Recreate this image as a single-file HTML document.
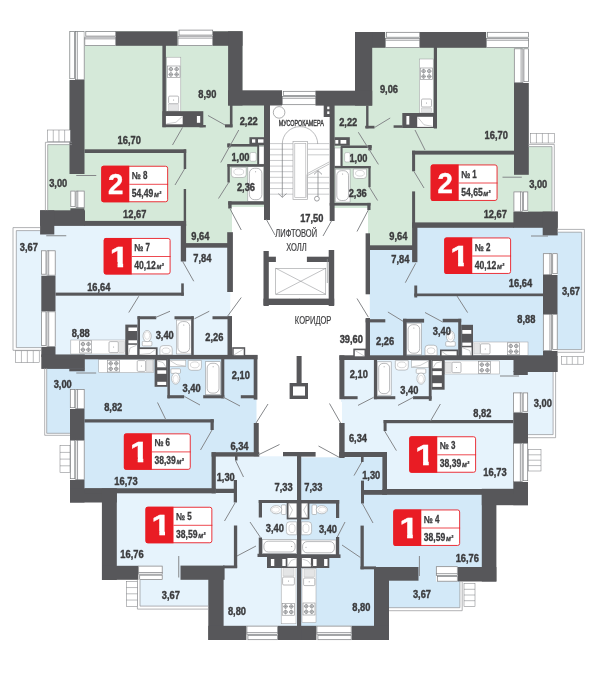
<!DOCTYPE html>
<html lang="ru"><head><meta charset="utf-8"><title>План этажа</title>
<style>html,body{margin:0;padding:0;background:#fff;overflow:hidden}svg{display:block;will-change:transform}svg text{font-family:"Liberation Sans",sans-serif}</style></head>
<body>
<svg width="600" height="700" viewBox="0 0 600 700" font-family="'Liberation Sans', sans-serif">
<g id="fill">
<rect x="69.5" y="31.3" width="173" height="73.7" fill="#d5e9d9"/>
<rect x="69.5" y="105" width="197.5" height="102" fill="#d5e9d9"/>
<rect x="47.7" y="144.6" width="37.3" height="67.4" fill="#d5e9d9"/>
<rect x="84" y="150" width="103" height="73" fill="#d5e9d9"/>
<rect x="183" y="205" width="49" height="41" fill="#d5e9d9"/>
<rect x="16.3" y="230.6" width="25.7" height="117" fill="#e6f3fc"/>
<rect x="41" y="225" width="143.5" height="71" fill="#e6f3fc"/>
<rect x="183" y="245" width="47.3" height="51" fill="#e6f3fc"/>
<rect x="55" y="294" width="175.3" height="63" fill="#e6f3fc"/>
<rect x="70" y="356" width="187" height="44" fill="#d3e9f8"/>
<rect x="46.7" y="368" width="24.3" height="65.3" fill="#d3e9f8"/>
<rect x="70" y="400" width="186.5" height="56" fill="#d3e9f8"/>
<rect x="70" y="456" width="146" height="35" fill="#d3e9f8"/>
<rect x="214" y="456.3" width="85" height="110.7" fill="#e6f3fc"/>
<rect x="116" y="492" width="99" height="75" fill="#e6f3fc"/>
<rect x="222" y="566" width="77" height="62" fill="#e6f3fc"/>
<rect x="140" y="579" width="70" height="27.1" fill="#e6f3fc"/>
<rect x="162" y="565" width="19" height="16" fill="#e6f3fc"/>
<rect x="355.5" y="32.2" width="173" height="73.8" fill="#d5e9d9"/>
<rect x="331" y="105" width="197.5" height="103" fill="#d5e9d9"/>
<rect x="513" y="146.6" width="39" height="66.4" fill="#d5e9d9"/>
<rect x="411" y="150" width="103" height="75" fill="#d5e9d9"/>
<rect x="368" y="205" width="47" height="42.5" fill="#d5e9d9"/>
<rect x="556" y="232.2" width="25.7" height="117.4" fill="#d3e9f8"/>
<rect x="415" y="226" width="142" height="71" fill="#d3e9f8"/>
<rect x="369.8" y="247" width="46.2" height="50" fill="#d3e9f8"/>
<rect x="369.8" y="295" width="173.7" height="63" fill="#d3e9f8"/>
<rect x="341" y="358" width="187" height="44" fill="#e6f3fc"/>
<rect x="527" y="370" width="26.1" height="64.6" fill="#e6f3fc"/>
<rect x="342" y="400" width="186" height="58" fill="#e6f3fc"/>
<rect x="385" y="456" width="143" height="36" fill="#e6f3fc"/>
<rect x="299" y="457.3" width="85.5" height="112.7" fill="#d3e9f8"/>
<rect x="383" y="493" width="99" height="75.5" fill="#d3e9f8"/>
<rect x="299" y="566" width="77" height="62" fill="#d3e9f8"/>
<rect x="388" y="580" width="71.9" height="27.7" fill="#d3e9f8"/>
<rect x="418" y="566" width="18.5" height="16" fill="#d3e9f8"/>
</g>
<g id="fix">
<rect x="166.7" y="57.2" width="14.1" height="54.3" fill="#fff" stroke="#9a9c9e" stroke-width="0.5"/>
<rect x="167.5" y="66" width="12.5" height="11.6" fill="#fff" stroke="#8a8c8f" stroke-width="0.6"/>
<ellipse cx="170.88" cy="69.13" rx="1.7" ry="1.7" fill="#fff" stroke="#6f7174" stroke-width="0.6"/>
<line x1="168.57" y1="69.13" x2="173.18" y2="69.13" stroke="#6f7174" stroke-width="0.5"/>
<line x1="170.88" y1="66.83" x2="170.88" y2="71.43" stroke="#6f7174" stroke-width="0.5"/>
<ellipse cx="170.88" cy="74.47" rx="1.7" ry="1.7" fill="#fff" stroke="#6f7174" stroke-width="0.6"/>
<line x1="168.57" y1="74.47" x2="173.18" y2="74.47" stroke="#6f7174" stroke-width="0.5"/>
<line x1="170.88" y1="72.17" x2="170.88" y2="76.77" stroke="#6f7174" stroke-width="0.5"/>
<ellipse cx="176.62" cy="69.13" rx="1.7" ry="1.7" fill="#fff" stroke="#6f7174" stroke-width="0.6"/>
<line x1="174.32" y1="69.13" x2="178.93" y2="69.13" stroke="#6f7174" stroke-width="0.5"/>
<line x1="176.62" y1="66.83" x2="176.62" y2="71.43" stroke="#6f7174" stroke-width="0.5"/>
<ellipse cx="176.62" cy="74.47" rx="1.7" ry="1.7" fill="#fff" stroke="#6f7174" stroke-width="0.6"/>
<line x1="174.32" y1="74.47" x2="178.93" y2="74.47" stroke="#6f7174" stroke-width="0.5"/>
<line x1="176.62" y1="72.17" x2="176.62" y2="76.77" stroke="#6f7174" stroke-width="0.5"/>
<rect x="168.6" y="96.1" width="10" height="7.6" fill="#fff" stroke="#8a8c8f" stroke-width="0.6" rx="1.2"/>
<ellipse cx="173.6" cy="99.9" rx="0.5" ry="0.5" fill="#8a8c8f" stroke="none" stroke-width="0"/>
<rect x="168.6" y="104.7" width="10" height="6.2" fill="#e4e5e6" stroke="#b8b9bb" stroke-width="0.4"/>
<rect x="259" y="146.5" width="5" height="17.7" fill="#fff" stroke="#9a9c9e" stroke-width="0.5"/>
<rect x="250" y="152.5" width="6.25" height="8.75" fill="#fff" stroke="#9a9c9e" stroke-width="0.5" rx="1.5"/>
<path d="M231.25 167.3 V174.3 Q231.25 177.5 234.45 177.5 H243.05 Q246.25 177.5 246.25 174.3 V167.3 Z" fill="#fff" stroke="#9a9c9e" stroke-width="0.6"/>
<ellipse cx="238.75" cy="171.89" rx="4.95" ry="3.06" fill="#fff" stroke="#b0b1b3" stroke-width="0.5"/>
<rect x="247.8" y="166.7" width="15.7" height="34.6" fill="#fff" stroke="#9a9c9e" stroke-width="0.6"/>
<rect x="249.4" y="168.3" width="12.5" height="31.4" fill="#fff" stroke="#8a8c8f" stroke-width="0.6" rx="5"/>
<ellipse cx="255.65" cy="171.7" rx="0.5" ry="0.5" fill="#8a8c8f" stroke="none" stroke-width="0"/>
<rect x="70.8" y="340" width="54.5" height="14" fill="#fff" stroke="#9a9c9e" stroke-width="0.5"/>
<rect x="79.7" y="340.8" width="12" height="12.2" fill="#fff" stroke="#8a8c8f" stroke-width="0.6"/>
<ellipse cx="82.94" cy="344.09" rx="1.7" ry="1.7" fill="#fff" stroke="#6f7174" stroke-width="0.6"/>
<line x1="80.64" y1="344.09" x2="85.24" y2="344.09" stroke="#6f7174" stroke-width="0.5"/>
<line x1="82.94" y1="341.79" x2="82.94" y2="346.39" stroke="#6f7174" stroke-width="0.5"/>
<ellipse cx="82.94" cy="349.71" rx="1.7" ry="1.7" fill="#fff" stroke="#6f7174" stroke-width="0.6"/>
<line x1="80.64" y1="349.71" x2="85.24" y2="349.71" stroke="#6f7174" stroke-width="0.5"/>
<line x1="82.94" y1="347.41" x2="82.94" y2="352.01" stroke="#6f7174" stroke-width="0.5"/>
<ellipse cx="88.46" cy="344.09" rx="1.7" ry="1.7" fill="#fff" stroke="#6f7174" stroke-width="0.6"/>
<line x1="86.16" y1="344.09" x2="90.76" y2="344.09" stroke="#6f7174" stroke-width="0.5"/>
<line x1="88.46" y1="341.79" x2="88.46" y2="346.39" stroke="#6f7174" stroke-width="0.5"/>
<ellipse cx="88.46" cy="349.71" rx="1.7" ry="1.7" fill="#fff" stroke="#6f7174" stroke-width="0.6"/>
<line x1="86.16" y1="349.71" x2="90.76" y2="349.71" stroke="#6f7174" stroke-width="0.5"/>
<line x1="88.46" y1="347.41" x2="88.46" y2="352.01" stroke="#6f7174" stroke-width="0.5"/>
<rect x="109" y="341.6" width="9.3" height="11" fill="#fff" stroke="#8a8c8f" stroke-width="0.6" rx="1.2"/>
<ellipse cx="113.65" cy="347.1" rx="0.5" ry="0.5" fill="#8a8c8f" stroke="none" stroke-width="0"/>
<rect x="118.8" y="341.6" width="5.8" height="11" fill="#e4e5e6" stroke="#b8b9bb" stroke-width="0.4"/>
<rect x="142.3" y="341.3" width="9.6" height="4.6" fill="#fff" stroke="#9a9c9e" stroke-width="0.6" rx="1"/>
<ellipse cx="147.1" cy="336.1" rx="4.1" ry="5.6" fill="#fff" stroke="#9a9c9e" stroke-width="0.6"/>
<ellipse cx="147.1" cy="335.5" rx="2.6" ry="3.9" fill="#fff" stroke="#c4c5c7" stroke-width="0.5"/>
<rect x="176.3" y="320" width="15" height="34" fill="#fff" stroke="#9a9c9e" stroke-width="0.6"/>
<rect x="177.9" y="321.6" width="11.8" height="30.8" fill="#fff" stroke="#8a8c8f" stroke-width="0.6" rx="4.72"/>
<ellipse cx="183.8" cy="325" rx="0.5" ry="0.5" fill="#8a8c8f" stroke="none" stroke-width="0"/>
<path d="M159.9 355 V348.8 Q159.9 345.6 163.1 345.6 H169 Q172.2 345.6 172.2 348.8 V355 Z" fill="#fff" stroke="#9a9c9e" stroke-width="0.6"/>
<ellipse cx="166.05" cy="350.77" rx="4.06" ry="2.82" fill="#fff" stroke="#b0b1b3" stroke-width="0.5"/>
<rect x="98.75" y="359.6" width="55" height="13" fill="#fff" stroke="#9a9c9e" stroke-width="0.5"/>
<rect x="107.5" y="360.2" width="12" height="11.8" fill="#fff" stroke="#8a8c8f" stroke-width="0.6"/>
<ellipse cx="110.74" cy="363.39" rx="1.7" ry="1.7" fill="#fff" stroke="#6f7174" stroke-width="0.6"/>
<line x1="108.44" y1="363.39" x2="113.04" y2="363.39" stroke="#6f7174" stroke-width="0.5"/>
<line x1="110.74" y1="361.09" x2="110.74" y2="365.69" stroke="#6f7174" stroke-width="0.5"/>
<ellipse cx="110.74" cy="368.81" rx="1.7" ry="1.7" fill="#fff" stroke="#6f7174" stroke-width="0.6"/>
<line x1="108.44" y1="368.81" x2="113.04" y2="368.81" stroke="#6f7174" stroke-width="0.5"/>
<line x1="110.74" y1="366.51" x2="110.74" y2="371.11" stroke="#6f7174" stroke-width="0.5"/>
<ellipse cx="116.26" cy="363.39" rx="1.7" ry="1.7" fill="#fff" stroke="#6f7174" stroke-width="0.6"/>
<line x1="113.96" y1="363.39" x2="118.56" y2="363.39" stroke="#6f7174" stroke-width="0.5"/>
<line x1="116.26" y1="361.09" x2="116.26" y2="365.69" stroke="#6f7174" stroke-width="0.5"/>
<ellipse cx="116.26" cy="368.81" rx="1.7" ry="1.7" fill="#fff" stroke="#6f7174" stroke-width="0.6"/>
<line x1="113.96" y1="368.81" x2="118.56" y2="368.81" stroke="#6f7174" stroke-width="0.5"/>
<line x1="116.26" y1="366.51" x2="116.26" y2="371.11" stroke="#6f7174" stroke-width="0.5"/>
<rect x="137.2" y="360.6" width="8.4" height="10.8" fill="#fff" stroke="#8a8c8f" stroke-width="0.6" rx="1.2"/>
<ellipse cx="141.4" cy="366" rx="0.5" ry="0.5" fill="#8a8c8f" stroke="none" stroke-width="0"/>
<rect x="146.2" y="360.6" width="6.6" height="10.8" fill="#e4e5e6" stroke="#b8b9bb" stroke-width="0.4"/>
<rect x="169.8" y="360.2" width="16" height="6.4" fill="#fff" stroke="#9a9c9e" stroke-width="0.5"/>
<path d="M185.3 366 L177 364.8 L170.3 360.8" fill="#fff" stroke="#9a9c9e" stroke-width="0.5"/>
<rect x="170.9" y="368.8" width="9.6" height="4.6" fill="#fff" stroke="#9a9c9e" stroke-width="0.6" rx="1"/>
<ellipse cx="175.7" cy="378.6" rx="4.1" ry="5.6" fill="#fff" stroke="#9a9c9e" stroke-width="0.6"/>
<ellipse cx="175.7" cy="379.2" rx="2.6" ry="3.9" fill="#fff" stroke="#c4c5c7" stroke-width="0.5"/>
<path d="M188.2 360.4 V367.1 Q188.2 370.3 191.4 370.3 H198.2 Q201.4 370.3 201.4 367.1 V360.4 Z" fill="#fff" stroke="#9a9c9e" stroke-width="0.6"/>
<ellipse cx="194.8" cy="364.86" rx="4.36" ry="2.97" fill="#fff" stroke="#b0b1b3" stroke-width="0.5"/>
<rect x="205.6" y="361.7" width="15" height="33" fill="#fff" stroke="#9a9c9e" stroke-width="0.6"/>
<rect x="207.2" y="363.3" width="11.8" height="29.8" fill="#fff" stroke="#8a8c8f" stroke-width="0.6" rx="4.72"/>
<ellipse cx="213.1" cy="366.7" rx="0.5" ry="0.5" fill="#8a8c8f" stroke="none" stroke-width="0"/>
<rect x="281.4" y="504.9" width="4.6" height="9.6" fill="#fff" stroke="#9a9c9e" stroke-width="0.6" rx="1"/>
<ellipse cx="276.2" cy="509.7" rx="5.6" ry="4.1" fill="#fff" stroke="#9a9c9e" stroke-width="0.6"/>
<ellipse cx="275.6" cy="509.7" rx="3.9" ry="2.6" fill="#fff" stroke="#c4c5c7" stroke-width="0.5"/>
<path d="M296.7 521.8 H289.6 Q286.4 521.8 286.4 525 V531.6 Q286.4 534.8 289.6 534.8 H296.7 Z" fill="#fff" stroke="#9a9c9e" stroke-width="0.6"/>
<ellipse cx="292.06" cy="528.3" rx="3.09" ry="4.29" fill="#fff" stroke="#b0b1b3" stroke-width="0.5"/>
<rect x="262.3" y="539.6" width="34.4" height="14" fill="#fff" stroke="#9a9c9e" stroke-width="0.6"/>
<rect x="263.9" y="541.2" width="31.2" height="10.8" fill="#fff" stroke="#8a8c8f" stroke-width="0.6" rx="4.32"/>
<ellipse cx="291.7" cy="546.6" rx="0.5" ry="0.5" fill="#8a8c8f" stroke="none" stroke-width="0"/>
<rect x="281.2" y="567.5" width="14.8" height="56.25" fill="#fff" stroke="#9a9c9e" stroke-width="0.5"/>
<rect x="283" y="568.8" width="11" height="7.2" fill="#e4e5e6" stroke="#b8b9bb" stroke-width="0.4"/>
<rect x="282.6" y="577" width="11.8" height="8" fill="#fff" stroke="#8a8c8f" stroke-width="0.6" rx="1.2"/>
<ellipse cx="288.5" cy="581" rx="0.5" ry="0.5" fill="#8a8c8f" stroke="none" stroke-width="0"/>
<rect x="282.2" y="603.3" width="12.4" height="11.9" fill="#fff" stroke="#8a8c8f" stroke-width="0.6"/>
<ellipse cx="285.55" cy="606.51" rx="1.7" ry="1.7" fill="#fff" stroke="#6f7174" stroke-width="0.6"/>
<line x1="283.25" y1="606.51" x2="287.85" y2="606.51" stroke="#6f7174" stroke-width="0.5"/>
<line x1="285.55" y1="604.21" x2="285.55" y2="608.81" stroke="#6f7174" stroke-width="0.5"/>
<ellipse cx="285.55" cy="611.99" rx="1.7" ry="1.7" fill="#fff" stroke="#6f7174" stroke-width="0.6"/>
<line x1="283.25" y1="611.99" x2="287.85" y2="611.99" stroke="#6f7174" stroke-width="0.5"/>
<line x1="285.55" y1="609.69" x2="285.55" y2="614.29" stroke="#6f7174" stroke-width="0.5"/>
<ellipse cx="291.25" cy="606.51" rx="1.7" ry="1.7" fill="#fff" stroke="#6f7174" stroke-width="0.6"/>
<line x1="288.95" y1="606.51" x2="293.55" y2="606.51" stroke="#6f7174" stroke-width="0.5"/>
<line x1="291.25" y1="604.21" x2="291.25" y2="608.81" stroke="#6f7174" stroke-width="0.5"/>
<ellipse cx="291.25" cy="611.99" rx="1.7" ry="1.7" fill="#fff" stroke="#6f7174" stroke-width="0.6"/>
<line x1="288.95" y1="611.99" x2="293.55" y2="611.99" stroke="#6f7174" stroke-width="0.5"/>
<line x1="291.25" y1="609.69" x2="291.25" y2="614.29" stroke="#6f7174" stroke-width="0.5"/>
<rect x="419.5" y="59" width="13.7" height="54" fill="#fff" stroke="#9a9c9e" stroke-width="0.5"/>
<rect x="420.3" y="68" width="12.2" height="11.6" fill="#fff" stroke="#8a8c8f" stroke-width="0.6"/>
<ellipse cx="423.59" cy="71.13" rx="1.7" ry="1.7" fill="#fff" stroke="#6f7174" stroke-width="0.6"/>
<line x1="421.29" y1="71.13" x2="425.89" y2="71.13" stroke="#6f7174" stroke-width="0.5"/>
<line x1="423.59" y1="68.83" x2="423.59" y2="73.43" stroke="#6f7174" stroke-width="0.5"/>
<ellipse cx="423.59" cy="76.47" rx="1.7" ry="1.7" fill="#fff" stroke="#6f7174" stroke-width="0.6"/>
<line x1="421.29" y1="76.47" x2="425.89" y2="76.47" stroke="#6f7174" stroke-width="0.5"/>
<line x1="423.59" y1="74.17" x2="423.59" y2="78.77" stroke="#6f7174" stroke-width="0.5"/>
<ellipse cx="429.21" cy="71.13" rx="1.7" ry="1.7" fill="#fff" stroke="#6f7174" stroke-width="0.6"/>
<line x1="426.91" y1="71.13" x2="431.51" y2="71.13" stroke="#6f7174" stroke-width="0.5"/>
<line x1="429.21" y1="68.83" x2="429.21" y2="73.43" stroke="#6f7174" stroke-width="0.5"/>
<ellipse cx="429.21" cy="76.47" rx="1.7" ry="1.7" fill="#fff" stroke="#6f7174" stroke-width="0.6"/>
<line x1="426.91" y1="76.47" x2="431.51" y2="76.47" stroke="#6f7174" stroke-width="0.5"/>
<line x1="429.21" y1="74.17" x2="429.21" y2="78.77" stroke="#6f7174" stroke-width="0.5"/>
<rect x="421.5" y="99" width="10" height="8" fill="#fff" stroke="#8a8c8f" stroke-width="0.6" rx="1.2"/>
<ellipse cx="426.5" cy="103" rx="0.5" ry="0.5" fill="#8a8c8f" stroke="none" stroke-width="0"/>
<rect x="421.5" y="108" width="10" height="4.6" fill="#e4e5e6" stroke="#b8b9bb" stroke-width="0.4"/>
<rect x="334.6" y="148" width="6.1" height="18" fill="#fff" stroke="#9a9c9e" stroke-width="0.5"/>
<rect x="344.6" y="152.6" width="5.5" height="9.4" fill="#fff" stroke="#9a9c9e" stroke-width="0.5" rx="1.5"/>
<path d="M353.3 169 V175.3 Q353.3 178.5 356.5 178.5 H363.4 Q366.6 178.5 366.6 175.3 V169 Z" fill="#fff" stroke="#9a9c9e" stroke-width="0.6"/>
<ellipse cx="359.95" cy="173.28" rx="4.39" ry="2.85" fill="#fff" stroke="#b0b1b3" stroke-width="0.5"/>
<rect x="335.2" y="169.1" width="14.9" height="33" fill="#fff" stroke="#9a9c9e" stroke-width="0.6"/>
<rect x="336.8" y="170.7" width="11.7" height="29.8" fill="#fff" stroke="#8a8c8f" stroke-width="0.6" rx="4.68"/>
<ellipse cx="342.65" cy="174.1" rx="0.5" ry="0.5" fill="#8a8c8f" stroke="none" stroke-width="0"/>
<rect x="473" y="342" width="55" height="13.4" fill="#fff" stroke="#9a9c9e" stroke-width="0.5"/>
<rect x="507.5" y="342.8" width="12" height="12" fill="#fff" stroke="#8a8c8f" stroke-width="0.6"/>
<ellipse cx="510.74" cy="346.04" rx="1.7" ry="1.7" fill="#fff" stroke="#6f7174" stroke-width="0.6"/>
<line x1="508.44" y1="346.04" x2="513.04" y2="346.04" stroke="#6f7174" stroke-width="0.5"/>
<line x1="510.74" y1="343.74" x2="510.74" y2="348.34" stroke="#6f7174" stroke-width="0.5"/>
<ellipse cx="510.74" cy="351.56" rx="1.7" ry="1.7" fill="#fff" stroke="#6f7174" stroke-width="0.6"/>
<line x1="508.44" y1="351.56" x2="513.04" y2="351.56" stroke="#6f7174" stroke-width="0.5"/>
<line x1="510.74" y1="349.26" x2="510.74" y2="353.86" stroke="#6f7174" stroke-width="0.5"/>
<ellipse cx="516.26" cy="346.04" rx="1.7" ry="1.7" fill="#fff" stroke="#6f7174" stroke-width="0.6"/>
<line x1="513.96" y1="346.04" x2="518.56" y2="346.04" stroke="#6f7174" stroke-width="0.5"/>
<line x1="516.26" y1="343.74" x2="516.26" y2="348.34" stroke="#6f7174" stroke-width="0.5"/>
<ellipse cx="516.26" cy="351.56" rx="1.7" ry="1.7" fill="#fff" stroke="#6f7174" stroke-width="0.6"/>
<line x1="513.96" y1="351.56" x2="518.56" y2="351.56" stroke="#6f7174" stroke-width="0.5"/>
<line x1="516.26" y1="349.26" x2="516.26" y2="353.86" stroke="#6f7174" stroke-width="0.5"/>
<rect x="480.5" y="343.8" width="9.5" height="10.2" fill="#fff" stroke="#8a8c8f" stroke-width="0.6" rx="1.2"/>
<ellipse cx="485.25" cy="348.9" rx="0.5" ry="0.5" fill="#8a8c8f" stroke="none" stroke-width="0"/>
<rect x="474" y="343.8" width="6" height="10.2" fill="#e4e5e6" stroke="#b8b9bb" stroke-width="0.4"/>
<rect x="445.7" y="341.6" width="9.6" height="4.6" fill="#fff" stroke="#9a9c9e" stroke-width="0.6" rx="1"/>
<ellipse cx="450.5" cy="336.4" rx="4.1" ry="5.6" fill="#fff" stroke="#9a9c9e" stroke-width="0.6"/>
<ellipse cx="450.5" cy="335.8" rx="2.6" ry="3.9" fill="#fff" stroke="#c4c5c7" stroke-width="0.5"/>
<rect x="406.5" y="323.1" width="14.8" height="31.7" fill="#fff" stroke="#9a9c9e" stroke-width="0.6"/>
<rect x="408.1" y="324.7" width="11.6" height="28.5" fill="#fff" stroke="#8a8c8f" stroke-width="0.6" rx="4.64"/>
<ellipse cx="413.9" cy="328.1" rx="0.5" ry="0.5" fill="#8a8c8f" stroke="none" stroke-width="0"/>
<path d="M425 355.4 V348.4 Q425 345.2 428.2 345.2 H433.9 Q437.1 345.2 437.1 348.4 V355.4 Z" fill="#fff" stroke="#9a9c9e" stroke-width="0.6"/>
<ellipse cx="431.05" cy="350.81" rx="3.99" ry="3.06" fill="#fff" stroke="#b0b1b3" stroke-width="0.5"/>
<rect x="444.6" y="360.9" width="54.8" height="13.1" fill="#fff" stroke="#9a9c9e" stroke-width="0.5"/>
<rect x="478.6" y="361.5" width="12" height="11.9" fill="#fff" stroke="#8a8c8f" stroke-width="0.6"/>
<ellipse cx="481.84" cy="364.71" rx="1.7" ry="1.7" fill="#fff" stroke="#6f7174" stroke-width="0.6"/>
<line x1="479.54" y1="364.71" x2="484.14" y2="364.71" stroke="#6f7174" stroke-width="0.5"/>
<line x1="481.84" y1="362.41" x2="481.84" y2="367.01" stroke="#6f7174" stroke-width="0.5"/>
<ellipse cx="481.84" cy="370.19" rx="1.7" ry="1.7" fill="#fff" stroke="#6f7174" stroke-width="0.6"/>
<line x1="479.54" y1="370.19" x2="484.14" y2="370.19" stroke="#6f7174" stroke-width="0.5"/>
<line x1="481.84" y1="367.89" x2="481.84" y2="372.49" stroke="#6f7174" stroke-width="0.5"/>
<ellipse cx="487.36" cy="364.71" rx="1.7" ry="1.7" fill="#fff" stroke="#6f7174" stroke-width="0.6"/>
<line x1="485.06" y1="364.71" x2="489.66" y2="364.71" stroke="#6f7174" stroke-width="0.5"/>
<line x1="487.36" y1="362.41" x2="487.36" y2="367.01" stroke="#6f7174" stroke-width="0.5"/>
<ellipse cx="487.36" cy="370.19" rx="1.7" ry="1.7" fill="#fff" stroke="#6f7174" stroke-width="0.6"/>
<line x1="485.06" y1="370.19" x2="489.66" y2="370.19" stroke="#6f7174" stroke-width="0.5"/>
<line x1="487.36" y1="367.89" x2="487.36" y2="372.49" stroke="#6f7174" stroke-width="0.5"/>
<rect x="452" y="362.3" width="9" height="10.3" fill="#fff" stroke="#8a8c8f" stroke-width="0.6" rx="1.2"/>
<ellipse cx="456.5" cy="367.45" rx="0.5" ry="0.5" fill="#8a8c8f" stroke="none" stroke-width="0"/>
<rect x="445.6" y="362.3" width="6" height="10.3" fill="#e4e5e6" stroke="#b8b9bb" stroke-width="0.4"/>
<rect x="411.7" y="360.5" width="17.1" height="6.9" fill="#fff" stroke="#9a9c9e" stroke-width="0.5"/>
<path d="M412.2 366.8 L420 365.5 L428.2 361.2" fill="#fff" stroke="#9a9c9e" stroke-width="0.5"/>
<rect x="416.2" y="368.8" width="9.6" height="4.6" fill="#fff" stroke="#9a9c9e" stroke-width="0.6" rx="1"/>
<ellipse cx="421" cy="378.6" rx="4.1" ry="5.6" fill="#fff" stroke="#9a9c9e" stroke-width="0.6"/>
<ellipse cx="421" cy="379.2" rx="2.6" ry="3.9" fill="#fff" stroke="#c4c5c7" stroke-width="0.5"/>
<path d="M395.3 360.6 V366.9 Q395.3 370.1 398.5 370.1 H405.1 Q408.3 370.1 408.3 366.9 V360.6 Z" fill="#fff" stroke="#9a9c9e" stroke-width="0.6"/>
<ellipse cx="401.8" cy="364.88" rx="4.29" ry="2.85" fill="#fff" stroke="#b0b1b3" stroke-width="0.5"/>
<rect x="377.1" y="361.8" width="14.1" height="33.4" fill="#fff" stroke="#9a9c9e" stroke-width="0.6"/>
<rect x="378.7" y="363.4" width="10.9" height="30.2" fill="#fff" stroke="#8a8c8f" stroke-width="0.6" rx="4.36"/>
<ellipse cx="384.15" cy="366.8" rx="0.5" ry="0.5" fill="#8a8c8f" stroke="none" stroke-width="0"/>
<rect x="312" y="504.9" width="4.6" height="9.6" fill="#fff" stroke="#9a9c9e" stroke-width="0.6" rx="1"/>
<ellipse cx="321.8" cy="509.7" rx="5.6" ry="4.1" fill="#fff" stroke="#9a9c9e" stroke-width="0.6"/>
<ellipse cx="322.4" cy="509.7" rx="3.9" ry="2.6" fill="#fff" stroke="#c4c5c7" stroke-width="0.5"/>
<path d="M301.3 521.8 H308.4 Q311.6 521.8 311.6 525 V531.6 Q311.6 534.8 308.4 534.8 H301.3 Z" fill="#fff" stroke="#9a9c9e" stroke-width="0.6"/>
<ellipse cx="305.94" cy="528.3" rx="3.09" ry="4.29" fill="#fff" stroke="#b0b1b3" stroke-width="0.5"/>
<rect x="301" y="540" width="35" height="14.4" fill="#fff" stroke="#9a9c9e" stroke-width="0.6"/>
<rect x="302.6" y="541.6" width="31.8" height="11.2" fill="#fff" stroke="#8a8c8f" stroke-width="0.6" rx="4.48"/>
<ellipse cx="306" cy="547.2" rx="0.5" ry="0.5" fill="#8a8c8f" stroke="none" stroke-width="0"/>
<rect x="302" y="568.4" width="14" height="54.1" fill="#fff" stroke="#9a9c9e" stroke-width="0.5"/>
<rect x="304" y="569.6" width="10.5" height="7.4" fill="#e4e5e6" stroke="#b8b9bb" stroke-width="0.4"/>
<rect x="303.6" y="578" width="11.2" height="7.6" fill="#fff" stroke="#8a8c8f" stroke-width="0.6" rx="1.2"/>
<ellipse cx="309.2" cy="581.8" rx="0.5" ry="0.5" fill="#8a8c8f" stroke="none" stroke-width="0"/>
<rect x="303" y="603" width="12" height="12" fill="#fff" stroke="#8a8c8f" stroke-width="0.6"/>
<ellipse cx="306.24" cy="606.24" rx="1.7" ry="1.7" fill="#fff" stroke="#6f7174" stroke-width="0.6"/>
<line x1="303.94" y1="606.24" x2="308.54" y2="606.24" stroke="#6f7174" stroke-width="0.5"/>
<line x1="306.24" y1="603.94" x2="306.24" y2="608.54" stroke="#6f7174" stroke-width="0.5"/>
<ellipse cx="306.24" cy="611.76" rx="1.7" ry="1.7" fill="#fff" stroke="#6f7174" stroke-width="0.6"/>
<line x1="303.94" y1="611.76" x2="308.54" y2="611.76" stroke="#6f7174" stroke-width="0.5"/>
<line x1="306.24" y1="609.46" x2="306.24" y2="614.06" stroke="#6f7174" stroke-width="0.5"/>
<ellipse cx="311.76" cy="606.24" rx="1.7" ry="1.7" fill="#fff" stroke="#6f7174" stroke-width="0.6"/>
<line x1="309.46" y1="606.24" x2="314.06" y2="606.24" stroke="#6f7174" stroke-width="0.5"/>
<line x1="311.76" y1="603.94" x2="311.76" y2="608.54" stroke="#6f7174" stroke-width="0.5"/>
<ellipse cx="311.76" cy="611.76" rx="1.7" ry="1.7" fill="#fff" stroke="#6f7174" stroke-width="0.6"/>
<line x1="309.46" y1="611.76" x2="314.06" y2="611.76" stroke="#6f7174" stroke-width="0.5"/>
<line x1="311.76" y1="609.46" x2="311.76" y2="614.06" stroke="#6f7174" stroke-width="0.5"/>
</g>
<g id="wall">
<rect x="116" y="31.3" width="61.7" height="14.5" fill="#57575a"/>
<rect x="213" y="31.3" width="29.5" height="14.5" fill="#57575a"/>
<rect x="69.5" y="80" width="15" height="94" fill="#57575a"/>
<rect x="228.1" y="31.3" width="14.4" height="74.2" fill="#57575a"/>
<rect x="228.1" y="90.3" width="53.9" height="15.2" fill="#57575a"/>
<rect x="162.4" y="45" width="3.5" height="82.2" fill="#57575a"/>
<rect x="162.4" y="111.2" width="40.9" height="16" fill="#57575a"/>
<rect x="199.5" y="125" width="6.3" height="2.4" fill="#57575a"/>
<rect x="165.9" y="116" width="16.8" height="8.3" fill="#fff"/>
<path d="M166.4 123.8 L176 122.3 L182.2 116.5" fill="none" stroke="#9a9c9e" stroke-width="0.5"/>
<rect x="196.9" y="116" width="3.3" height="6.8" fill="#fff"/>
<rect x="229.9" y="105" width="2.6" height="22.2" fill="#57575a"/>
<rect x="225" y="124.3" width="7.5" height="3.1" fill="#57575a"/>
<rect x="84.5" y="149.3" width="101.7" height="3.7" fill="#57575a"/>
<rect x="183.7" y="149.3" width="2.5" height="19.7" fill="#57575a"/>
<rect x="183.7" y="189" width="2.4" height="37" fill="#57575a"/>
<rect x="180.8" y="224" width="5.3" height="37.5" fill="#57575a"/>
<rect x="84.4" y="220.9" width="101.7" height="5" fill="#57575a"/>
<rect x="40.1" y="210.3" width="44.9" height="15.6" fill="#57575a"/>
<rect x="70.4" y="208.3" width="14" height="2.7" fill="#57575a"/>
<rect x="40.1" y="210.3" width="14.2" height="24.2" fill="#57575a"/>
<rect x="249.4" y="137.2" width="15.6" height="8.3" fill="#57575a"/>
<rect x="252" y="139.3" width="3.3" height="3.4" fill="#fff"/>
<rect x="258" y="139.3" width="5.5" height="3.4" fill="#fff"/>
<rect x="227.5" y="144" width="31.5" height="2.6" fill="#57575a"/>
<rect x="227.3" y="143.3" width="3.2" height="4.2" fill="#57575a"/>
<rect x="227.4" y="164.1" width="37.1" height="2.6" fill="#57575a"/>
<rect x="227.4" y="164.1" width="2.4" height="18.4" fill="#57575a"/>
<rect x="257.2" y="145" width="1.8" height="20" fill="#57575a"/>
<rect x="228.2" y="201.3" width="41.8" height="3.4" fill="#57575a"/>
<rect x="228.2" y="201.3" width="3.4" height="7.2" fill="#57575a"/>
<rect x="184" y="243.1" width="47.25" height="4.6" fill="#57575a"/>
<rect x="227.2" y="232.2" width="5.7" height="59.8" fill="#57575a"/>
<rect x="264" y="104" width="6" height="116" fill="#57575a"/>
<rect x="41.3" y="275.5" width="14.2" height="36" fill="#57575a"/>
<rect x="41.3" y="346.7" width="14.2" height="10.3" fill="#57575a"/>
<rect x="41.3" y="354.5" width="43.5" height="14.4" fill="#57575a"/>
<rect x="69.3" y="368.5" width="15.5" height="2.8" fill="#57575a"/>
<rect x="55.5" y="292.6" width="128.3" height="3.1" fill="#57575a"/>
<rect x="181.2" y="283.4" width="2.6" height="12.3" fill="#57575a"/>
<rect x="137.5" y="316.25" width="2.5" height="38.75" fill="#57575a"/>
<rect x="137.5" y="316.25" width="18.75" height="3" fill="#57575a"/>
<rect x="174.5" y="316.25" width="19.25" height="3" fill="#57575a"/>
<rect x="191.25" y="316.25" width="2.5" height="38.75" fill="#57575a"/>
<rect x="212.5" y="316.25" width="19.5" height="3" fill="#57575a"/>
<rect x="227.5" y="316.25" width="4.5" height="40" fill="#57575a"/>
<rect x="125.3" y="324.6" width="12.2" height="30.9" fill="#57575a"/>
<rect x="128.4" y="327.5" width="8.6" height="3.5" fill="#fff"/>
<rect x="128.4" y="340.3" width="8.6" height="3" fill="#fff"/>
<rect x="128.2" y="344.8" width="8.8" height="10.2" fill="#fff"/>
<path d="M128.6 354.5 L130 348 L136.5 345.3" fill="none" stroke="#9a9c9e" stroke-width="0.5"/>
<rect x="138.3" y="347.3" width="19.3" height="8.2" fill="#57575a"/>
<rect x="139.6" y="349.1" width="16.2" height="5.9" fill="#fff"/>
<path d="M140 354.5 L150 353.5 L155.3 349.5" fill="none" stroke="#9a9c9e" stroke-width="0.5"/>
<rect x="55" y="354.9" width="202.5" height="4.4" fill="#57575a"/>
<rect x="253.7" y="355" width="3.7" height="44.6" fill="#57575a"/>
<rect x="240.8" y="395.2" width="13.2" height="3.1" fill="#57575a"/>
<rect x="167.4" y="358" width="2.5" height="40.3" fill="#57575a"/>
<rect x="167.4" y="395.2" width="16.8" height="3.1" fill="#57575a"/>
<rect x="203.2" y="395.2" width="21.1" height="3.1" fill="#57575a"/>
<rect x="221.2" y="358" width="3.1" height="40.3" fill="#57575a"/>
<rect x="154.6" y="358" width="13" height="28.8" fill="#57575a"/>
<rect x="157.2" y="360.3" width="9" height="7" fill="#fff"/>
<path d="M157.6 361 L163 362.5 L165.8 366.8" fill="none" stroke="#9a9c9e" stroke-width="0.5"/>
<rect x="157.3" y="370.3" width="8.9" height="3.5" fill="#fff"/>
<rect x="157.3" y="381.8" width="8.9" height="3.2" fill="#fff"/>
<rect x="70" y="409" width="14.5" height="31" fill="#57575a"/>
<rect x="70" y="480" width="14.5" height="22.5" fill="#57575a"/>
<rect x="70" y="488.5" width="46.8" height="14" fill="#57575a"/>
<rect x="84.5" y="419.25" width="129.25" height="3.25" fill="#57575a"/>
<rect x="210.5" y="419.25" width="3.25" height="10.75" fill="#57575a"/>
<rect x="84.5" y="488.2" width="131.3" height="5.1" fill="#57575a"/>
<rect x="211.6" y="452.2" width="4.2" height="41.1" fill="#57575a"/>
<rect x="211.6" y="452.2" width="47.7" height="4.4" fill="#57575a"/>
<rect x="253.75" y="423" width="5" height="33.25" fill="#57575a"/>
<rect x="101.9" y="488.5" width="14.9" height="91.5" fill="#57575a"/>
<rect x="102.5" y="565.8" width="36.25" height="14" fill="#57575a"/>
<rect x="180.5" y="565.6" width="44.1" height="14.2" fill="#57575a"/>
<rect x="208.3" y="566" width="15.3" height="74" fill="#57575a"/>
<rect x="208.3" y="625.8" width="38.3" height="14.2" fill="#57575a"/>
<rect x="277.8" y="625.8" width="21.2" height="14.2" fill="#57575a"/>
<rect x="235" y="456" width="2.5" height="4.5" fill="#57575a"/>
<rect x="233.75" y="480" width="3.25" height="22.5" fill="#57575a"/>
<rect x="216" y="488.75" width="21" height="4.25" fill="#57575a"/>
<rect x="233.9" y="525.5" width="3.3" height="42.4" fill="#57575a"/>
<rect x="223" y="565.5" width="14.1" height="2.8" fill="#57575a"/>
<rect x="258.75" y="500" width="3.25" height="17.5" fill="#57575a"/>
<rect x="258.75" y="500" width="38.75" height="3" fill="#57575a"/>
<rect x="258.75" y="537.5" width="3.25" height="18.75" fill="#57575a"/>
<rect x="257.5" y="553.75" width="40" height="3.25" fill="#57575a"/>
<rect x="267" y="556.6" width="30.5" height="11.4" fill="#57575a"/>
<rect x="270.9" y="559" width="3.4" height="7" fill="#fff"/>
<rect x="282.3" y="559" width="3.4" height="7" fill="#fff"/>
<rect x="287.4" y="558" width="9.2" height="8.6" fill="#fff"/>
<path d="M296.2 558.6 L291 560.5 L287.8 566" fill="none" stroke="#9a9c9e" stroke-width="0.5"/>
<rect x="286.7" y="500" width="10.8" height="19.4" fill="#57575a"/>
<rect x="288.5" y="503.4" width="8.1" height="14.2" fill="#fff"/>
<path d="M289 504 L292.5 510 L289 517" fill="none" stroke="#9a9c9e" stroke-width="0.5"/>
<rect x="283" y="452" width="16.5" height="4.25" fill="#57575a"/>
<rect x="263.5" y="251" width="5.3" height="55" fill="#57575a"/>
<rect x="263.5" y="298.6" width="36" height="6.4" fill="#57575a"/>
<rect x="232.2" y="347.2" width="13" height="8.8" fill="#57575a"/>
<rect x="233.7" y="348.8" width="10" height="6.4" fill="#fff"/>
<path d="M234 354.9 L243.4 349.1" fill="none" stroke="#9a9c9e" stroke-width="0.5"/>
<rect x="420" y="32" width="66.3" height="15.8" fill="#57575a"/>
<rect x="355" y="32" width="30.3" height="15.8" fill="#57575a"/>
<rect x="514" y="83" width="14.8" height="91.8" fill="#57575a"/>
<rect x="355" y="32" width="17.2" height="73.6" fill="#57575a"/>
<rect x="315.5" y="90.7" width="56.7" height="14.9" fill="#57575a"/>
<rect x="433.8" y="47" width="3.2" height="81.5" fill="#57575a"/>
<rect x="402.3" y="113" width="34.7" height="15" fill="#57575a"/>
<rect x="393.6" y="125.3" width="9" height="2.5" fill="#57575a"/>
<rect x="417.2" y="116.8" width="15.8" height="10.1" fill="#fff"/>
<path d="M432.6 126.3 L424 124.8 L418 117.5" fill="none" stroke="#9a9c9e" stroke-width="0.5"/>
<rect x="406.4" y="116" width="2.9" height="8.6" fill="#fff"/>
<rect x="366.1" y="105.5" width="2.4" height="22.8" fill="#57575a"/>
<rect x="365.2" y="125.8" width="9.3" height="2.7" fill="#57575a"/>
<rect x="412.1" y="150.7" width="101.9" height="3.9" fill="#57575a"/>
<rect x="412.1" y="150.7" width="3" height="20.6" fill="#57575a"/>
<rect x="412.1" y="191.4" width="3" height="34.6" fill="#57575a"/>
<rect x="412.1" y="225" width="5.3" height="37.2" fill="#57575a"/>
<rect x="412.1" y="222.4" width="101.9" height="5.4" fill="#57575a"/>
<rect x="513.4" y="211.6" width="44.3" height="16.2" fill="#57575a"/>
<rect x="542.7" y="211.6" width="15" height="23.8" fill="#57575a"/>
<rect x="334.4" y="137.2" width="15.4" height="8.5" fill="#57575a"/>
<rect x="340.5" y="140" width="5.8" height="3.7" fill="#fff"/>
<rect x="335.3" y="140" width="3" height="3.7" fill="#fff"/>
<rect x="340.7" y="145.5" width="30.9" height="2.5" fill="#57575a"/>
<rect x="368.2" y="145" width="3.4" height="5.3" fill="#57575a"/>
<rect x="334.4" y="166" width="36.1" height="2.3" fill="#57575a"/>
<rect x="368.4" y="166" width="2.2" height="21.2" fill="#57575a"/>
<rect x="340.7" y="147" width="1.9" height="20" fill="#57575a"/>
<rect x="329.7" y="202.9" width="40.8" height="2.7" fill="#57575a"/>
<rect x="367.3" y="202.9" width="3.2" height="7.1" fill="#57575a"/>
<rect x="369.5" y="245.3" width="43.5" height="4.7" fill="#57575a"/>
<rect x="365.6" y="233.3" width="4.4" height="61" fill="#57575a"/>
<rect x="329.7" y="105" width="4.9" height="116" fill="#57575a"/>
<rect x="543" y="275" width="14.5" height="39" fill="#57575a"/>
<rect x="543" y="350.8" width="14.5" height="21.2" fill="#57575a"/>
<rect x="513.5" y="356" width="43.9" height="16" fill="#57575a"/>
<rect x="513.5" y="371" width="14.3" height="4" fill="#57575a"/>
<rect x="414.3" y="293.5" width="128.7" height="2.7" fill="#57575a"/>
<rect x="414.3" y="285.5" width="2.9" height="12" fill="#57575a"/>
<rect x="458.2" y="318.8" width="3" height="38.2" fill="#57575a"/>
<rect x="442.7" y="318.8" width="18.5" height="3.5" fill="#57575a"/>
<rect x="403.1" y="318.8" width="21" height="3.8" fill="#57575a"/>
<rect x="403.1" y="318.8" width="3.4" height="38.2" fill="#57575a"/>
<rect x="365.6" y="319.2" width="19.7" height="3.2" fill="#57575a"/>
<rect x="365.6" y="318" width="4.4" height="40" fill="#57575a"/>
<rect x="461.2" y="324.8" width="11.8" height="32.2" fill="#57575a"/>
<rect x="462.3" y="330" width="9" height="3.8" fill="#fff"/>
<rect x="462.3" y="342.6" width="9" height="3.2" fill="#fff"/>
<rect x="462.1" y="347.3" width="9.5" height="10" fill="#fff"/>
<path d="M471.2 356.8 L469.8 350.5 L462.6 347.8" fill="none" stroke="#9a9c9e" stroke-width="0.5"/>
<rect x="440" y="349.5" width="18.2" height="7.5" fill="#57575a"/>
<rect x="441.6" y="351.2" width="15" height="5.4" fill="#fff"/>
<path d="M456.2 356.2 L447 355.2 L442 351.6" fill="none" stroke="#9a9c9e" stroke-width="0.5"/>
<rect x="339.4" y="355.3" width="203.6" height="4.7" fill="#57575a"/>
<rect x="339.4" y="355.3" width="5" height="43.9" fill="#57575a"/>
<rect x="344" y="396.2" width="13.6" height="3" fill="#57575a"/>
<rect x="373.9" y="360" width="3.2" height="39.2" fill="#57575a"/>
<rect x="373.9" y="396.2" width="21.4" height="3" fill="#57575a"/>
<rect x="413" y="396.2" width="18.6" height="3" fill="#57575a"/>
<rect x="428.8" y="360" width="2.8" height="40.8" fill="#57575a"/>
<rect x="431.6" y="360" width="13" height="29.7" fill="#57575a"/>
<rect x="432.6" y="360.9" width="9.2" height="7.4" fill="#fff"/>
<path d="M441.4 361.6 L436 363 L433.2 367.6" fill="none" stroke="#9a9c9e" stroke-width="0.5"/>
<rect x="432.6" y="371.1" width="9.2" height="4.1" fill="#fff"/>
<rect x="432.6" y="383.2" width="9.2" height="3.7" fill="#fff"/>
<rect x="513.3" y="412.6" width="14.7" height="30.4" fill="#57575a"/>
<rect x="513.3" y="482" width="14.7" height="23.2" fill="#57575a"/>
<rect x="481.8" y="488.8" width="46.2" height="16.4" fill="#57575a"/>
<rect x="383.6" y="420" width="129.7" height="3.2" fill="#57575a"/>
<rect x="383.6" y="420" width="3" height="11" fill="#57575a"/>
<rect x="382.4" y="489" width="130.9" height="5.8" fill="#57575a"/>
<rect x="382.4" y="452" width="4.6" height="42.8" fill="#57575a"/>
<rect x="339.2" y="452" width="47.8" height="5" fill="#57575a"/>
<rect x="339.2" y="423" width="5.4" height="35" fill="#57575a"/>
<rect x="481.8" y="489" width="14.6" height="92.5" fill="#57575a"/>
<rect x="457.6" y="567" width="38.8" height="14.5" fill="#57575a"/>
<rect x="374" y="567" width="44.5" height="13.7" fill="#57575a"/>
<rect x="374" y="567" width="15" height="73" fill="#57575a"/>
<rect x="351.5" y="625.8" width="37.5" height="14.2" fill="#57575a"/>
<rect x="299" y="625.8" width="17.6" height="14.2" fill="#57575a"/>
<rect x="361" y="456.5" width="2.6" height="5.5" fill="#57575a"/>
<rect x="361" y="480.6" width="3" height="22.9" fill="#57575a"/>
<rect x="361" y="490" width="22" height="4.8" fill="#57575a"/>
<rect x="360.5" y="525.6" width="3.3" height="43.7" fill="#57575a"/>
<rect x="360.5" y="566.4" width="15.5" height="2.9" fill="#57575a"/>
<rect x="336" y="500" width="3.2" height="18" fill="#57575a"/>
<rect x="300.5" y="500" width="38.7" height="3.6" fill="#57575a"/>
<rect x="336" y="537" width="3.2" height="20" fill="#57575a"/>
<rect x="300.5" y="554.4" width="40" height="3.6" fill="#57575a"/>
<rect x="300.5" y="556.6" width="28.8" height="11.4" fill="#57575a"/>
<rect x="313.1" y="559" width="3.5" height="7" fill="#fff"/>
<rect x="324.1" y="559" width="3.4" height="7" fill="#fff"/>
<rect x="301.8" y="558" width="9.1" height="8.6" fill="#fff"/>
<rect x="300.5" y="500" width="8.9" height="19.4" fill="#57575a"/>
<rect x="301.4" y="503.4" width="6.2" height="14.2" fill="#fff"/>
<path d="M307.2 504 L303.7 510 L307.2 517" fill="none" stroke="#9a9c9e" stroke-width="0.5"/>
<path d="M302.4 559 L308 561 L312.5 566.5" fill="none" stroke="#9a9c9e" stroke-width="0.5"/>
<rect x="298.5" y="452" width="17.1" height="4.6" fill="#57575a"/>
<rect x="353.3" y="348.6" width="12.7" height="8.4" fill="#57575a"/>
<rect x="354.8" y="350.2" width="9.7" height="6.1" fill="#fff"/>
<path d="M364.2 356 L355.1 350.5" fill="none" stroke="#9a9c9e" stroke-width="0.5"/>
<rect x="328.7" y="250" width="5.5" height="56" fill="#57575a"/>
<rect x="306.9" y="256.7" width="23.1" height="5.3" fill="#57575a"/>
<rect x="268" y="256.7" width="7.9" height="5.3" fill="#57575a"/>
<rect x="299" y="298.6" width="35.2" height="6.4" fill="#57575a"/>
<rect x="296.6" y="356" width="5" height="28" fill="#57575a"/>
<rect x="289.6" y="383" width="18.4" height="16" fill="#57575a"/>
<rect x="293" y="386.4" width="12" height="9.2" fill="#fff"/>
<rect x="297" y="452" width="4.2" height="188" fill="#57575a"/>
<rect x="323.7" y="105" width="6.3" height="12" fill="#57575a"/>
<rect x="327.2" y="106.6" width="2.2" height="2.6" fill="#fff"/>
<rect x="327.2" y="111.4" width="2.2" height="2.6" fill="#fff"/>
</g>
<g id="win">
<rect x="69.5" y="31.3" width="15" height="48.7" fill="#fff"/>
<rect x="69.8" y="31.6" width="4.65" height="47.1" fill="#fff" stroke="#77797c" stroke-width="0.7"/>
<rect x="75.5" y="31.6" width="8.7" height="48.1" fill="#fff" stroke="#77797c" stroke-width="0.7"/>
<line x1="77.3" y1="31.3" x2="77.3" y2="80" stroke="#77797c" stroke-width="0.7"/>
<rect x="84.5" y="31.3" width="31.5" height="14.5" fill="#fff"/>
<rect x="85.8" y="31.6" width="29.9" height="4.48" fill="#fff" stroke="#77797c" stroke-width="0.7"/>
<rect x="84.8" y="37.1" width="30.9" height="8.4" fill="#fff" stroke="#77797c" stroke-width="0.7"/>
<line x1="84.5" y1="38.84" x2="116" y2="38.84" stroke="#77797c" stroke-width="0.7"/>
<rect x="177.7" y="29.8" width="35.3" height="16" fill="#fff"/>
<rect x="179" y="30.1" width="33.7" height="4.98" fill="#fff" stroke="#77797c" stroke-width="0.7"/>
<rect x="178" y="36.2" width="34.7" height="9.3" fill="#fff" stroke="#77797c" stroke-width="0.7"/>
<line x1="177.7" y1="38.12" x2="213" y2="38.12" stroke="#77797c" stroke-width="0.7"/>
<rect x="70.5" y="190.75" width="14" height="17.25" fill="#fff"/>
<rect x="70.8" y="191.05" width="4.32" height="15.65" fill="#fff" stroke="#77797c" stroke-width="0.7"/>
<rect x="76.1" y="191.05" width="8.1" height="16.65" fill="#fff" stroke="#77797c" stroke-width="0.7"/>
<line x1="77.78" y1="190.75" x2="77.78" y2="208" stroke="#77797c" stroke-width="0.7"/>
<rect x="41.3" y="250.5" width="14.2" height="25" fill="#fff"/>
<rect x="41.6" y="250.8" width="4.39" height="23.4" fill="#fff" stroke="#77797c" stroke-width="0.7"/>
<rect x="46.98" y="250.8" width="8.22" height="24.4" fill="#fff" stroke="#77797c" stroke-width="0.7"/>
<line x1="48.68" y1="250.5" x2="48.68" y2="275.5" stroke="#77797c" stroke-width="0.7"/>
<rect x="41.3" y="311.5" width="14.2" height="35.2" fill="#fff"/>
<rect x="41.6" y="311.8" width="4.39" height="33.6" fill="#fff" stroke="#77797c" stroke-width="0.7"/>
<rect x="46.98" y="311.8" width="8.22" height="34.6" fill="#fff" stroke="#77797c" stroke-width="0.7"/>
<line x1="48.68" y1="311.5" x2="48.68" y2="346.7" stroke="#77797c" stroke-width="0.7"/>
<rect x="70" y="389.25" width="14.5" height="19.75" fill="#fff"/>
<rect x="70.3" y="389.55" width="4.48" height="18.15" fill="#fff" stroke="#77797c" stroke-width="0.7"/>
<rect x="75.8" y="389.55" width="8.4" height="19.15" fill="#fff" stroke="#77797c" stroke-width="0.7"/>
<line x1="77.54" y1="389.25" x2="77.54" y2="409" stroke="#77797c" stroke-width="0.7"/>
<rect x="70" y="440" width="14.5" height="40" fill="#fff"/>
<rect x="70.3" y="440.3" width="4.48" height="38.4" fill="#fff" stroke="#77797c" stroke-width="0.7"/>
<rect x="75.8" y="440.3" width="8.4" height="39.4" fill="#fff" stroke="#77797c" stroke-width="0.7"/>
<line x1="77.54" y1="440" x2="77.54" y2="480" stroke="#77797c" stroke-width="0.7"/>
<rect x="138.4" y="565.8" width="24.1" height="14" fill="#fff"/>
<rect x="139.7" y="575.18" width="22.5" height="4.32" fill="#fff" stroke="#77797c" stroke-width="0.7"/>
<rect x="138.7" y="566.1" width="23.5" height="8.1" fill="#fff" stroke="#77797c" stroke-width="0.7"/>
<line x1="138.4" y1="572.52" x2="162.5" y2="572.52" stroke="#77797c" stroke-width="0.7"/>
<rect x="246.6" y="625.8" width="31.2" height="14.2" fill="#fff"/>
<rect x="247.9" y="635.31" width="29.6" height="4.39" fill="#fff" stroke="#77797c" stroke-width="0.7"/>
<rect x="246.9" y="626.1" width="30.6" height="8.22" fill="#fff" stroke="#77797c" stroke-width="0.7"/>
<line x1="246.6" y1="632.62" x2="277.8" y2="632.62" stroke="#77797c" stroke-width="0.7"/>
<rect x="514" y="48.5" width="14.8" height="34.5" fill="#fff"/>
<rect x="523.92" y="48.8" width="4.58" height="32.9" fill="#fff" stroke="#77797c" stroke-width="0.7"/>
<rect x="514.3" y="48.8" width="8.58" height="33.9" fill="#fff" stroke="#77797c" stroke-width="0.7"/>
<line x1="521.1" y1="48.5" x2="521.1" y2="83" stroke="#77797c" stroke-width="0.7"/>
<rect x="486.3" y="32" width="42.5" height="15.8" fill="#fff"/>
<rect x="487.6" y="32.3" width="40.9" height="4.91" fill="#fff" stroke="#77797c" stroke-width="0.7"/>
<rect x="486.6" y="38.32" width="41.9" height="9.18" fill="#fff" stroke="#77797c" stroke-width="0.7"/>
<line x1="486.3" y1="40.22" x2="528.8" y2="40.22" stroke="#77797c" stroke-width="0.7"/>
<rect x="385.3" y="32" width="34.7" height="15.8" fill="#fff"/>
<rect x="386.6" y="32.3" width="33.1" height="4.91" fill="#fff" stroke="#77797c" stroke-width="0.7"/>
<rect x="385.6" y="38.32" width="34.1" height="9.18" fill="#fff" stroke="#77797c" stroke-width="0.7"/>
<line x1="385.3" y1="40.22" x2="420" y2="40.22" stroke="#77797c" stroke-width="0.7"/>
<rect x="513.6" y="191.6" width="14.5" height="20" fill="#fff"/>
<rect x="523.32" y="191.9" width="4.49" height="18.4" fill="#fff" stroke="#77797c" stroke-width="0.7"/>
<rect x="513.9" y="191.9" width="8.4" height="19.4" fill="#fff" stroke="#77797c" stroke-width="0.7"/>
<line x1="520.56" y1="191.6" x2="520.56" y2="211.6" stroke="#77797c" stroke-width="0.7"/>
<rect x="543" y="253.4" width="14.5" height="21.6" fill="#fff"/>
<rect x="552.72" y="253.7" width="4.49" height="20" fill="#fff" stroke="#77797c" stroke-width="0.7"/>
<rect x="543.3" y="253.7" width="8.4" height="21" fill="#fff" stroke="#77797c" stroke-width="0.7"/>
<line x1="549.96" y1="253.4" x2="549.96" y2="275" stroke="#77797c" stroke-width="0.7"/>
<rect x="543" y="314" width="14.5" height="36.8" fill="#fff"/>
<rect x="552.72" y="314.3" width="4.49" height="35.2" fill="#fff" stroke="#77797c" stroke-width="0.7"/>
<rect x="543.3" y="314.3" width="8.4" height="36.2" fill="#fff" stroke="#77797c" stroke-width="0.7"/>
<line x1="549.96" y1="314" x2="549.96" y2="350.8" stroke="#77797c" stroke-width="0.7"/>
<rect x="513.3" y="392.6" width="14.7" height="20" fill="#fff"/>
<rect x="523.15" y="392.9" width="4.55" height="18.4" fill="#fff" stroke="#77797c" stroke-width="0.7"/>
<rect x="513.6" y="392.9" width="8.52" height="19.4" fill="#fff" stroke="#77797c" stroke-width="0.7"/>
<line x1="520.36" y1="392.6" x2="520.36" y2="412.6" stroke="#77797c" stroke-width="0.7"/>
<rect x="513.3" y="443" width="14.7" height="39" fill="#fff"/>
<rect x="523.15" y="443.3" width="4.55" height="37.4" fill="#fff" stroke="#77797c" stroke-width="0.7"/>
<rect x="513.6" y="443.3" width="8.52" height="38.4" fill="#fff" stroke="#77797c" stroke-width="0.7"/>
<line x1="520.36" y1="443" x2="520.36" y2="482" stroke="#77797c" stroke-width="0.7"/>
<rect x="436" y="566.4" width="21.6" height="15.1" fill="#fff"/>
<rect x="437.3" y="576.52" width="20" height="4.68" fill="#fff" stroke="#77797c" stroke-width="0.7"/>
<rect x="436.3" y="566.7" width="21" height="8.76" fill="#fff" stroke="#77797c" stroke-width="0.7"/>
<line x1="436" y1="573.65" x2="457.6" y2="573.65" stroke="#77797c" stroke-width="0.7"/>
<rect x="316.6" y="625.8" width="34.9" height="14.2" fill="#fff"/>
<rect x="317.9" y="635.31" width="33.3" height="4.39" fill="#fff" stroke="#77797c" stroke-width="0.7"/>
<rect x="316.9" y="626.1" width="34.3" height="8.22" fill="#fff" stroke="#77797c" stroke-width="0.7"/>
<line x1="316.6" y1="632.62" x2="351.5" y2="632.62" stroke="#77797c" stroke-width="0.7"/>
<rect x="282" y="91" width="34" height="14" fill="#fff"/>
<rect x="283.3" y="91.3" width="32.4" height="4.32" fill="#fff" stroke="#77797c" stroke-width="0.7"/>
<rect x="282.3" y="96.6" width="33.4" height="8.1" fill="#fff" stroke="#77797c" stroke-width="0.7"/>
<line x1="282" y1="98.28" x2="316" y2="98.28" stroke="#77797c" stroke-width="0.7"/>
</g>
<g id="line">
<path d="M72 142.3 L45.4 142.3 L45.4 210.3" fill="none" stroke="#909295" stroke-width="0.7"/>
<path d="M72 144.6 L47.7 144.6 L47.7 210.3" fill="none" stroke="#909295" stroke-width="0.7"/>
<path d="M40 227.6 L13 227.6 L13 350.3 L41 350.3" fill="none" stroke="#909295" stroke-width="0.7"/>
<path d="M40 230.6 L16.3 230.6 L16.3 347.6 L41 347.6" fill="none" stroke="#909295" stroke-width="0.7"/>
<path d="M44.7 368 L44.7 435.3 L70 435.3" fill="none" stroke="#909295" stroke-width="0.7"/>
<path d="M46.7 368 L46.7 433.3 L70 433.3" fill="none" stroke="#909295" stroke-width="0.7"/>
<path d="M137.4 580 L137.4 609.1 L209 609.1" fill="none" stroke="#909295" stroke-width="0.7"/>
<path d="M140 580 L140 606.1 L209 606.1" fill="none" stroke="#909295" stroke-width="0.7"/>
<rect x="47.6" y="130" width="22.7" height="11.7" fill="#fff" stroke="#77797c" stroke-width="0.5"/>
<line x1="53.27" y1="130" x2="53.27" y2="141.7" stroke="#77797c" stroke-width="0.5"/>
<line x1="58.95" y1="130" x2="58.95" y2="141.7" stroke="#77797c" stroke-width="0.5"/>
<line x1="64.62" y1="130" x2="64.62" y2="141.7" stroke="#77797c" stroke-width="0.5"/>
<rect x="15.5" y="350.8" width="23.7" height="11.7" fill="#fff" stroke="#77797c" stroke-width="0.5"/>
<line x1="21.43" y1="350.8" x2="21.43" y2="362.5" stroke="#77797c" stroke-width="0.5"/>
<line x1="27.35" y1="350.8" x2="27.35" y2="362.5" stroke="#77797c" stroke-width="0.5"/>
<line x1="33.28" y1="350.8" x2="33.28" y2="362.5" stroke="#77797c" stroke-width="0.5"/>
<rect x="60" y="445.7" width="10" height="26.8" fill="#fff" stroke="#77797c" stroke-width="0.5"/>
<line x1="60" y1="452.4" x2="70" y2="452.4" stroke="#77797c" stroke-width="0.5"/>
<line x1="60" y1="459.1" x2="70" y2="459.1" stroke="#77797c" stroke-width="0.5"/>
<line x1="60" y1="465.8" x2="70" y2="465.8" stroke="#77797c" stroke-width="0.5"/>
<rect x="126.3" y="581.3" width="11.2" height="25" fill="#fff" stroke="#77797c" stroke-width="0.5"/>
<line x1="126.3" y1="587.55" x2="137.5" y2="587.55" stroke="#77797c" stroke-width="0.5"/>
<line x1="126.3" y1="593.8" x2="137.5" y2="593.8" stroke="#77797c" stroke-width="0.5"/>
<line x1="126.3" y1="600.05" x2="137.5" y2="600.05" stroke="#77797c" stroke-width="0.5"/>
<line x1="182.5" y1="127.5" x2="172.5" y2="145" stroke="#85878a" stroke-width="1"/>
<line x1="208" y1="115.5" x2="225" y2="125" stroke="#85878a" stroke-width="1"/>
<line x1="238.75" y1="130" x2="220.75" y2="162.5" stroke="#85878a" stroke-width="1"/>
<line x1="184.5" y1="169" x2="175" y2="185" stroke="#85878a" stroke-width="1"/>
<line x1="229" y1="182" x2="218.5" y2="198.5" stroke="#85878a" stroke-width="1"/>
<line x1="230" y1="208.75" x2="241.25" y2="230" stroke="#85878a" stroke-width="1"/>
<line x1="266.25" y1="219.25" x2="275" y2="235" stroke="#85878a" stroke-width="1"/>
<line x1="182.5" y1="261.25" x2="193.75" y2="281.25" stroke="#85878a" stroke-width="1"/>
<line x1="138.75" y1="296.25" x2="128.75" y2="312.5" stroke="#85878a" stroke-width="1"/>
<line x1="155.5" y1="317.5" x2="170" y2="311.25" stroke="#85878a" stroke-width="1"/>
<line x1="194.5" y1="318.75" x2="209.25" y2="311.25" stroke="#85878a" stroke-width="1"/>
<line x1="227.5" y1="316.25" x2="241.25" y2="297.5" stroke="#85878a" stroke-width="1"/>
<line x1="157.5" y1="402.5" x2="166" y2="420" stroke="#85878a" stroke-width="1"/>
<line x1="184.5" y1="396.5" x2="200" y2="405" stroke="#85878a" stroke-width="1"/>
<line x1="223" y1="397" x2="240" y2="406" stroke="#85878a" stroke-width="1"/>
<line x1="212" y1="430" x2="200.5" y2="450" stroke="#85878a" stroke-width="1"/>
<line x1="256" y1="423" x2="268" y2="404" stroke="#85878a" stroke-width="1"/>
<line x1="258" y1="455" x2="279.5" y2="444.5" stroke="#85878a" stroke-width="1"/>
<line x1="235.5" y1="460.5" x2="243.5" y2="477" stroke="#85878a" stroke-width="1"/>
<line x1="235" y1="503" x2="224.5" y2="521" stroke="#85878a" stroke-width="1"/>
<line x1="250" y1="522" x2="260.5" y2="537.5" stroke="#85878a" stroke-width="1"/>
<line x1="237" y1="556" x2="256" y2="546" stroke="#85878a" stroke-width="1"/>
<line x1="76.25" y1="175.5" x2="96.25" y2="175.5" stroke="#85878a" stroke-width="1"/>
<line x1="46.25" y1="235.75" x2="66.25" y2="235.75" stroke="#85878a" stroke-width="1"/>
<line x1="76.3" y1="373" x2="96.2" y2="373" stroke="#85878a" stroke-width="1"/>
<line x1="178.75" y1="556" x2="178.75" y2="577.5" stroke="#85878a" stroke-width="1"/>
<path d="M528 144.4 L554.3 144.4 L554.3 212" fill="none" stroke="#909295" stroke-width="0.7"/>
<path d="M528 146.6 L552 146.6 L552 212" fill="none" stroke="#909295" stroke-width="0.7"/>
<path d="M557.5 229.4 L584.4 229.4 L584.4 352.3 L557 352.3" fill="none" stroke="#909295" stroke-width="0.7"/>
<path d="M557.5 232.2 L581.7 232.2 L581.7 349.6 L557 349.6" fill="none" stroke="#909295" stroke-width="0.7"/>
<path d="M555.6 372 L555.6 437.7 L528 437.7" fill="none" stroke="#909295" stroke-width="0.7"/>
<path d="M553.1 372 L553.1 434.6 L528 434.6" fill="none" stroke="#909295" stroke-width="0.7"/>
<path d="M462.2 582 L462.2 610.7 L389 610.7" fill="none" stroke="#909295" stroke-width="0.7"/>
<path d="M459.9 582 L459.9 607.7 L389 607.7" fill="none" stroke="#909295" stroke-width="0.7"/>
<rect x="530.5" y="133.4" width="23.8" height="9.6" fill="#fff" stroke="#77797c" stroke-width="0.5"/>
<line x1="536.45" y1="133.4" x2="536.45" y2="143" stroke="#77797c" stroke-width="0.5"/>
<line x1="542.4" y1="133.4" x2="542.4" y2="143" stroke="#77797c" stroke-width="0.5"/>
<line x1="548.35" y1="133.4" x2="548.35" y2="143" stroke="#77797c" stroke-width="0.5"/>
<rect x="561.3" y="356.7" width="22" height="7.5" fill="#fff" stroke="#77797c" stroke-width="0.5"/>
<line x1="566.8" y1="356.7" x2="566.8" y2="364.2" stroke="#77797c" stroke-width="0.5"/>
<line x1="572.3" y1="356.7" x2="572.3" y2="364.2" stroke="#77797c" stroke-width="0.5"/>
<line x1="577.8" y1="356.7" x2="577.8" y2="364.2" stroke="#77797c" stroke-width="0.5"/>
<rect x="528.3" y="449.4" width="12.7" height="21.6" fill="#fff" stroke="#77797c" stroke-width="0.5"/>
<line x1="528.3" y1="454.8" x2="541" y2="454.8" stroke="#77797c" stroke-width="0.5"/>
<line x1="528.3" y1="460.2" x2="541" y2="460.2" stroke="#77797c" stroke-width="0.5"/>
<line x1="528.3" y1="465.6" x2="541" y2="465.6" stroke="#77797c" stroke-width="0.5"/>
<rect x="464" y="583.6" width="11" height="22.8" fill="#fff" stroke="#77797c" stroke-width="0.5"/>
<line x1="464" y1="589.3" x2="475" y2="589.3" stroke="#77797c" stroke-width="0.5"/>
<line x1="464" y1="595" x2="475" y2="595" stroke="#77797c" stroke-width="0.5"/>
<line x1="464" y1="600.7" x2="475" y2="600.7" stroke="#77797c" stroke-width="0.5"/>
<line x1="415" y1="130" x2="425" y2="150" stroke="#85878a" stroke-width="1"/>
<line x1="390.2" y1="118" x2="374.5" y2="127.5" stroke="#85878a" stroke-width="1"/>
<line x1="358.3" y1="132.2" x2="378.4" y2="164.4" stroke="#85878a" stroke-width="1"/>
<line x1="414" y1="171.5" x2="424" y2="188" stroke="#85878a" stroke-width="1"/>
<line x1="369.4" y1="187.2" x2="377.6" y2="200.5" stroke="#85878a" stroke-width="1"/>
<line x1="368.3" y1="210" x2="357" y2="231.5" stroke="#85878a" stroke-width="1"/>
<line x1="331.75" y1="220.5" x2="323" y2="236" stroke="#85878a" stroke-width="1"/>
<line x1="415.7" y1="263.3" x2="405.3" y2="282.7" stroke="#85878a" stroke-width="1"/>
<line x1="457" y1="296" x2="467.6" y2="312.6" stroke="#85878a" stroke-width="1"/>
<line x1="442.7" y1="322" x2="425" y2="312.5" stroke="#85878a" stroke-width="1"/>
<line x1="403.1" y1="321.3" x2="387.9" y2="312" stroke="#85878a" stroke-width="1"/>
<line x1="368.4" y1="317.2" x2="357" y2="298.5" stroke="#85878a" stroke-width="1"/>
<line x1="440.4" y1="404" x2="430.5" y2="421" stroke="#85878a" stroke-width="1"/>
<line x1="413.5" y1="397.2" x2="398" y2="405.4" stroke="#85878a" stroke-width="1"/>
<line x1="373.5" y1="397.4" x2="358" y2="405.4" stroke="#85878a" stroke-width="1"/>
<line x1="384.6" y1="431" x2="396.4" y2="450.6" stroke="#85878a" stroke-width="1"/>
<line x1="340.6" y1="423" x2="329.5" y2="403.5" stroke="#85878a" stroke-width="1"/>
<line x1="339" y1="457.2" x2="318.5" y2="446" stroke="#85878a" stroke-width="1"/>
<line x1="361.8" y1="462" x2="354" y2="475.6" stroke="#85878a" stroke-width="1"/>
<line x1="362.3" y1="503.5" x2="373" y2="523" stroke="#85878a" stroke-width="1"/>
<line x1="345" y1="522" x2="337.3" y2="537" stroke="#85878a" stroke-width="1"/>
<line x1="360.6" y1="557.6" x2="342" y2="545" stroke="#85878a" stroke-width="1"/>
<line x1="521.8" y1="177.2" x2="502.5" y2="177.2" stroke="#85878a" stroke-width="1"/>
<line x1="548" y1="236" x2="531" y2="236" stroke="#85878a" stroke-width="1"/>
<line x1="519" y1="376" x2="500" y2="376" stroke="#85878a" stroke-width="1"/>
<line x1="419.4" y1="556" x2="419.4" y2="576" stroke="#85878a" stroke-width="1"/>
<line x1="327.3" y1="259" x2="327.3" y2="283" stroke="#8d8f92" stroke-width="0.7"/>
<rect x="275.75" y="268.25" width="50" height="26" fill="#fff" stroke="#85878a" stroke-width="0.5"/>
<line x1="275.75" y1="268.25" x2="325.75" y2="294.25" stroke="#85878a" stroke-width="0.5"/>
<line x1="275.75" y1="294.25" x2="325.75" y2="268.25" stroke="#85878a" stroke-width="0.5"/>
<ellipse cx="279.1" cy="112.4" rx="5.8" ry="5.8" fill="#fff" stroke="#77797b" stroke-width="0.6"/>
<line x1="270" y1="143.6" x2="293" y2="143.6" stroke="#bdbec0" stroke-width="0.8"/>
<line x1="307.5" y1="143.6" x2="329.7" y2="143.6" stroke="#bdbec0" stroke-width="0.8"/>
<line x1="270" y1="149.22" x2="293" y2="149.22" stroke="#bdbec0" stroke-width="0.8"/>
<line x1="307.5" y1="149.22" x2="329.7" y2="149.22" stroke="#bdbec0" stroke-width="0.8"/>
<line x1="270" y1="154.84" x2="293" y2="154.84" stroke="#bdbec0" stroke-width="0.8"/>
<line x1="307.5" y1="154.84" x2="329.7" y2="154.84" stroke="#bdbec0" stroke-width="0.8"/>
<line x1="270" y1="160.46" x2="293" y2="160.46" stroke="#bdbec0" stroke-width="0.8"/>
<line x1="270" y1="166.08" x2="293" y2="166.08" stroke="#bdbec0" stroke-width="0.8"/>
<line x1="270" y1="171.7" x2="293" y2="171.7" stroke="#bdbec0" stroke-width="0.8"/>
<line x1="270" y1="177.32" x2="293" y2="177.32" stroke="#bdbec0" stroke-width="0.8"/>
<line x1="307.5" y1="177.32" x2="329.7" y2="177.32" stroke="#bdbec0" stroke-width="0.8"/>
<line x1="270" y1="182.94" x2="293" y2="182.94" stroke="#bdbec0" stroke-width="0.8"/>
<line x1="307.5" y1="182.94" x2="329.7" y2="182.94" stroke="#bdbec0" stroke-width="0.8"/>
<line x1="270" y1="188.56" x2="293" y2="188.56" stroke="#bdbec0" stroke-width="0.8"/>
<line x1="307.5" y1="188.56" x2="329.7" y2="188.56" stroke="#bdbec0" stroke-width="0.8"/>
<line x1="270" y1="194.18" x2="293" y2="194.18" stroke="#bdbec0" stroke-width="0.8"/>
<line x1="307.5" y1="194.18" x2="329.7" y2="194.18" stroke="#bdbec0" stroke-width="0.8"/>
<rect x="293" y="141.6" width="14.6" height="57.8" fill="#fff" stroke="#a9aaac" stroke-width="0.7"/>
<rect x="294.8" y="143.4" width="11" height="54.2" fill="#fff" stroke="#a9aaac" stroke-width="0.6"/>
<path d="M282.3 144 A17.7 17.4 0 0 1 317.7 144" fill="none" stroke="#8d8f92" stroke-width="0.6"/>
<path d="M282.3 144 V197.3 M278.3 193.6 L282.3 197.3 L286.5 193.6" fill="none" stroke="#77797c" stroke-width="0.7"/>
<path d="M318 196.2 V170.6 M314 174.4 L318 170.6 L322 174.4" fill="none" stroke="#77797c" stroke-width="0.7"/>
<ellipse cx="316.9" cy="198.7" rx="2.4" ry="2.4" fill="#fff" stroke="#77797c" stroke-width="0.7"/>
<line x1="307.5" y1="173.5" x2="329.5" y2="161.8" stroke="#a9aaac" stroke-width="0.7"/>
<line x1="307.5" y1="175.5" x2="329.5" y2="163.8" stroke="#a9aaac" stroke-width="0.7"/>
<line x1="307" y1="174.5" x2="307" y2="197.5" stroke="#a9aaac" stroke-width="0.7"/>
</g>
<g id="text">
<text transform="translate(129.2 144.2) scale(0.87 1)" font-size="10.7" font-weight="bold" text-anchor="middle" fill="#3b3b3d" stroke="#3b3b3d" stroke-width="0.4">16,70</text>
<text transform="translate(496.2 139) scale(0.87 1)" font-size="10.7" font-weight="bold" text-anchor="middle" fill="#3b3b3d" stroke="#3b3b3d" stroke-width="0.4">16,70</text>
<text transform="translate(207.3 97.5) scale(0.87 1)" font-size="10.7" font-weight="bold" text-anchor="middle" fill="#3b3b3d" stroke="#3b3b3d" stroke-width="0.4">8,90</text>
<text transform="translate(389 93.4) scale(0.87 1)" font-size="10.7" font-weight="bold" text-anchor="middle" fill="#3b3b3d" stroke="#3b3b3d" stroke-width="0.4">9,06</text>
<text transform="translate(248.7 124.5) scale(0.87 1)" font-size="10.7" font-weight="bold" text-anchor="middle" fill="#3b3b3d" stroke="#3b3b3d" stroke-width="0.4">2,22</text>
<text transform="translate(348.2 125.9) scale(0.87 1)" font-size="10.7" font-weight="bold" text-anchor="middle" fill="#3b3b3d" stroke="#3b3b3d" stroke-width="0.4">2,22</text>
<text transform="translate(240.5 161.2) scale(0.87 1)" font-size="10.7" font-weight="bold" text-anchor="middle" fill="#3b3b3d" stroke="#3b3b3d" stroke-width="0.4">1,00</text>
<text transform="translate(358.5 162) scale(0.87 1)" font-size="10.7" font-weight="bold" text-anchor="middle" fill="#3b3b3d" stroke="#3b3b3d" stroke-width="0.4">1,00</text>
<text transform="translate(246 191.3) scale(0.87 1)" font-size="10.7" font-weight="bold" text-anchor="middle" fill="#3b3b3d" stroke="#3b3b3d" stroke-width="0.4">2,36</text>
<text transform="translate(357.7 197.3) scale(0.87 1)" font-size="10.7" font-weight="bold" text-anchor="middle" fill="#3b3b3d" stroke="#3b3b3d" stroke-width="0.4">2,36</text>
<text transform="translate(58.2 186.9) scale(0.87 1)" font-size="10.7" font-weight="bold" text-anchor="middle" fill="#3b3b3d" stroke="#3b3b3d" stroke-width="0.4">3,00</text>
<text transform="translate(538.2 187.7) scale(0.87 1)" font-size="10.7" font-weight="bold" text-anchor="middle" fill="#3b3b3d" stroke="#3b3b3d" stroke-width="0.4">3,00</text>
<text transform="translate(134.7 218.1) scale(0.87 1)" font-size="10.7" font-weight="bold" text-anchor="middle" fill="#3b3b3d" stroke="#3b3b3d" stroke-width="0.4">12,67</text>
<text transform="translate(495.3 218.3) scale(0.87 1)" font-size="10.7" font-weight="bold" text-anchor="middle" fill="#3b3b3d" stroke="#3b3b3d" stroke-width="0.4">12,67</text>
<text transform="translate(200.3 240) scale(0.87 1)" font-size="10.7" font-weight="bold" text-anchor="middle" fill="#3b3b3d" stroke="#3b3b3d" stroke-width="0.4">9,64</text>
<text transform="translate(398.3 240) scale(0.87 1)" font-size="10.7" font-weight="bold" text-anchor="middle" fill="#3b3b3d" stroke="#3b3b3d" stroke-width="0.4">9,64</text>
<text transform="translate(311.8 221.7) scale(0.87 1)" font-size="10.7" font-weight="bold" text-anchor="middle" fill="#3b3b3d" stroke="#3b3b3d" stroke-width="0.4">17,50</text>
<text transform="translate(202.3 262) scale(0.87 1)" font-size="10.7" font-weight="bold" text-anchor="middle" fill="#3b3b3d" stroke="#3b3b3d" stroke-width="0.4">7,84</text>
<text transform="translate(400.3 262.7) scale(0.87 1)" font-size="10.7" font-weight="bold" text-anchor="middle" fill="#3b3b3d" stroke="#3b3b3d" stroke-width="0.4">7,84</text>
<text transform="translate(28.8 251.4) scale(0.87 1)" font-size="10.7" font-weight="bold" text-anchor="middle" fill="#3b3b3d" stroke="#3b3b3d" stroke-width="0.4">3,67</text>
<text transform="translate(571 295) scale(0.87 1)" font-size="10.7" font-weight="bold" text-anchor="middle" fill="#3b3b3d" stroke="#3b3b3d" stroke-width="0.4">3,67</text>
<text transform="translate(98.8 291.4) scale(0.87 1)" font-size="10.7" font-weight="bold" text-anchor="middle" fill="#3b3b3d" stroke="#3b3b3d" stroke-width="0.4">16,64</text>
<text transform="translate(520.5 287.4) scale(0.87 1)" font-size="10.7" font-weight="bold" text-anchor="middle" fill="#3b3b3d" stroke="#3b3b3d" stroke-width="0.4">16,64</text>
<text transform="translate(80.7 336.7) scale(0.87 1)" font-size="10.7" font-weight="bold" text-anchor="middle" fill="#3b3b3d" stroke="#3b3b3d" stroke-width="0.4">8,88</text>
<text transform="translate(526.3 322.6) scale(0.87 1)" font-size="10.7" font-weight="bold" text-anchor="middle" fill="#3b3b3d" stroke="#3b3b3d" stroke-width="0.4">8,88</text>
<text transform="translate(164.7 339.2) scale(0.87 1)" font-size="10.7" font-weight="bold" text-anchor="middle" fill="#3b3b3d" stroke="#3b3b3d" stroke-width="0.4">3,40</text>
<text transform="translate(441.8 334.8) scale(0.87 1)" font-size="10.7" font-weight="bold" text-anchor="middle" fill="#3b3b3d" stroke="#3b3b3d" stroke-width="0.4">3,40</text>
<text transform="translate(214.4 341.3) scale(0.87 1)" font-size="10.7" font-weight="bold" text-anchor="middle" fill="#3b3b3d" stroke="#3b3b3d" stroke-width="0.4">2,26</text>
<text transform="translate(385.1 345) scale(0.87 1)" font-size="10.7" font-weight="bold" text-anchor="middle" fill="#3b3b3d" stroke="#3b3b3d" stroke-width="0.4">2,26</text>
<text transform="translate(351.3 342.5) scale(0.87 1)" font-size="10.7" font-weight="bold" text-anchor="middle" fill="#3b3b3d" stroke="#3b3b3d" stroke-width="0.4">39,60</text>
<text transform="translate(62.7 388.3) scale(0.87 1)" font-size="10.7" font-weight="bold" text-anchor="middle" fill="#3b3b3d" stroke="#3b3b3d" stroke-width="0.4">3,00</text>
<text transform="translate(542.8 406.6) scale(0.87 1)" font-size="10.7" font-weight="bold" text-anchor="middle" fill="#3b3b3d" stroke="#3b3b3d" stroke-width="0.4">3,00</text>
<text transform="translate(240.8 379.4) scale(0.87 1)" font-size="10.7" font-weight="bold" text-anchor="middle" fill="#3b3b3d" stroke="#3b3b3d" stroke-width="0.4">2,10</text>
<text transform="translate(358.8 378.1) scale(0.87 1)" font-size="10.7" font-weight="bold" text-anchor="middle" fill="#3b3b3d" stroke="#3b3b3d" stroke-width="0.4">2,10</text>
<text transform="translate(191.6 391.7) scale(0.87 1)" font-size="10.7" font-weight="bold" text-anchor="middle" fill="#3b3b3d" stroke="#3b3b3d" stroke-width="0.4">3,40</text>
<text transform="translate(409.3 394.3) scale(0.87 1)" font-size="10.7" font-weight="bold" text-anchor="middle" fill="#3b3b3d" stroke="#3b3b3d" stroke-width="0.4">3,40</text>
<text transform="translate(113.2 411.1) scale(0.87 1)" font-size="10.7" font-weight="bold" text-anchor="middle" fill="#3b3b3d" stroke="#3b3b3d" stroke-width="0.4">8,82</text>
<text transform="translate(482.3 417.4) scale(0.87 1)" font-size="10.7" font-weight="bold" text-anchor="middle" fill="#3b3b3d" stroke="#3b3b3d" stroke-width="0.4">8,82</text>
<text transform="translate(239.5 449.7) scale(0.87 1)" font-size="10.7" font-weight="bold" text-anchor="middle" fill="#3b3b3d" stroke="#3b3b3d" stroke-width="0.4">6,34</text>
<text transform="translate(358 442) scale(0.87 1)" font-size="10.7" font-weight="bold" text-anchor="middle" fill="#3b3b3d" stroke="#3b3b3d" stroke-width="0.4">6,34</text>
<text transform="translate(126 484.7) scale(0.87 1)" font-size="10.7" font-weight="bold" text-anchor="middle" fill="#3b3b3d" stroke="#3b3b3d" stroke-width="0.4">16,73</text>
<text transform="translate(495 476.3) scale(0.87 1)" font-size="10.7" font-weight="bold" text-anchor="middle" fill="#3b3b3d" stroke="#3b3b3d" stroke-width="0.4">16,73</text>
<text transform="translate(225.7 481.3) scale(0.87 1)" font-size="10.7" font-weight="bold" text-anchor="middle" fill="#3b3b3d" stroke="#3b3b3d" stroke-width="0.4">1,30</text>
<text transform="translate(371.2 478.6) scale(0.87 1)" font-size="10.7" font-weight="bold" text-anchor="middle" fill="#3b3b3d" stroke="#3b3b3d" stroke-width="0.4">1,30</text>
<text transform="translate(283.6 490.6) scale(0.87 1)" font-size="10.7" font-weight="bold" text-anchor="middle" fill="#3b3b3d" stroke="#3b3b3d" stroke-width="0.4">7,33</text>
<text transform="translate(313.3 490.6) scale(0.87 1)" font-size="10.7" font-weight="bold" text-anchor="middle" fill="#3b3b3d" stroke="#3b3b3d" stroke-width="0.4">7,33</text>
<text transform="translate(274.8 531.5) scale(0.87 1)" font-size="10.7" font-weight="bold" text-anchor="middle" fill="#3b3b3d" stroke="#3b3b3d" stroke-width="0.4">3,40</text>
<text transform="translate(328 533.4) scale(0.87 1)" font-size="10.7" font-weight="bold" text-anchor="middle" fill="#3b3b3d" stroke="#3b3b3d" stroke-width="0.4">3,40</text>
<text transform="translate(132 558.3) scale(0.87 1)" font-size="10.7" font-weight="bold" text-anchor="middle" fill="#3b3b3d" stroke="#3b3b3d" stroke-width="0.4">16,76</text>
<text transform="translate(467.3 562.4) scale(0.87 1)" font-size="10.7" font-weight="bold" text-anchor="middle" fill="#3b3b3d" stroke="#3b3b3d" stroke-width="0.4">16,76</text>
<text transform="translate(170.9 598.7) scale(0.87 1)" font-size="10.7" font-weight="bold" text-anchor="middle" fill="#3b3b3d" stroke="#3b3b3d" stroke-width="0.4">3,67</text>
<text transform="translate(422 598.4) scale(0.87 1)" font-size="10.7" font-weight="bold" text-anchor="middle" fill="#3b3b3d" stroke="#3b3b3d" stroke-width="0.4">3,67</text>
<text transform="translate(237 614.9) scale(0.87 1)" font-size="10.7" font-weight="bold" text-anchor="middle" fill="#3b3b3d" stroke="#3b3b3d" stroke-width="0.4">8,80</text>
<text transform="translate(361.3 611) scale(0.87 1)" font-size="10.7" font-weight="bold" text-anchor="middle" fill="#3b3b3d" stroke="#3b3b3d" stroke-width="0.4">8,80</text>
<text transform="translate(301.2 125.8) scale(0.62 1)" font-size="8.7" font-weight="normal" text-anchor="middle" fill="#3b3b3d" stroke="#3b3b3d" stroke-width="0.42">МУСОРОКАМЕРА</text>
<text transform="translate(296.2 236.5) scale(0.66 1)" font-size="11.4" font-weight="normal" text-anchor="middle" fill="#3b3b3d" stroke="#3b3b3d" stroke-width="0.2">ЛИФТОВОЙ</text>
<text transform="translate(296.4 250.8) scale(0.66 1)" font-size="11.4" font-weight="normal" text-anchor="middle" fill="#3b3b3d" stroke="#3b3b3d" stroke-width="0.2">ХОЛЛ</text>
<text transform="translate(313.1 324.4) scale(0.66 1)" font-size="11.4" font-weight="normal" text-anchor="middle" fill="#3b3b3d" stroke="#3b3b3d" stroke-width="0.2">КОРИДОР</text>
<defs><clipPath id="c1"><path d="M-2 -32 H11.9 V2 H6.85 V-4.4 H-2 Z"/></clipPath></defs>
<rect x="101.75" y="166.25" width="65.9" height="35.5" rx="2" fill="#fff" stroke="#e91c24" stroke-width="0.9"/>
<path d="M103.3 165.8 h26 v36.4 h-26 a2 2 0 0 1 -2 -2 v-32.4 a2 2 0 0 1 2 -2z" fill="#e91c24"/>
<line x1="129.3" y1="184.3" x2="168.1" y2="184.3" stroke="#e91c24" stroke-width="0.8"/>
<text transform="translate(115.7 194.2) scale(0.91 1)" font-size="30.3" font-weight="bold" text-anchor="middle" fill="#fff" stroke="#fff" stroke-width="0.4">2</text>
<text transform="translate(131.8 178.8) scale(0.8 1)" font-size="10" font-weight="bold" text-anchor="start" fill="#3b3b3d" stroke="#3b3b3d" stroke-width="0.3">№ 8</text>
<text transform="translate(131.8 196.8) scale(0.86 1)" font-size="10" font-weight="bold" fill="#3b3b3d" stroke="#3b3b3d" stroke-width="0.3">54,49<tspan font-size="7.8" dx="0.8" font-style="italic">м²</tspan></text>
<rect x="431.15" y="164.95" width="65.9" height="35.5" rx="2" fill="#fff" stroke="#e91c24" stroke-width="0.9"/>
<path d="M432.7 164.5 h26 v36.4 h-26 a2 2 0 0 1 -2 -2 v-32.4 a2 2 0 0 1 2 -2z" fill="#e91c24"/>
<line x1="458.7" y1="183" x2="497.5" y2="183" stroke="#e91c24" stroke-width="0.8"/>
<text transform="translate(445.1 192.9) scale(0.91 1)" font-size="30.3" font-weight="bold" text-anchor="middle" fill="#fff" stroke="#fff" stroke-width="0.4">2</text>
<text transform="translate(461.2 177.5) scale(0.8 1)" font-size="10" font-weight="bold" text-anchor="start" fill="#3b3b3d" stroke="#3b3b3d" stroke-width="0.3">№ 1</text>
<text transform="translate(461.2 195.5) scale(0.86 1)" font-size="10" font-weight="bold" fill="#3b3b3d" stroke="#3b3b3d" stroke-width="0.3">54,65<tspan font-size="7.8" dx="0.8" font-style="italic">м²</tspan></text>
<rect x="104.2" y="238.45" width="65.9" height="35.5" rx="2" fill="#fff" stroke="#e91c24" stroke-width="0.9"/>
<path d="M105.75 238 h26 v36.4 h-26 a2 2 0 0 1 -2 -2 v-32.4 a2 2 0 0 1 2 -2z" fill="#e91c24"/>
<line x1="131.75" y1="256.5" x2="170.55" y2="256.5" stroke="#e91c24" stroke-width="0.8"/>
<g transform="translate(109.85 266.5) scale(1.13 1)"><text clip-path="url(#c1)" font-size="30.3" font-weight="bold" fill="#fff" stroke="#fff" stroke-width="0.4">1</text></g>
<text transform="translate(134.25 251) scale(0.8 1)" font-size="10" font-weight="bold" text-anchor="start" fill="#3b3b3d" stroke="#3b3b3d" stroke-width="0.3">№ 7</text>
<text transform="translate(134.25 269) scale(0.86 1)" font-size="10" font-weight="bold" fill="#3b3b3d" stroke="#3b3b3d" stroke-width="0.3">40,12<tspan font-size="7.8" dx="0.8" font-style="italic">м²</tspan></text>
<rect x="444.7" y="237.95" width="65.9" height="35.5" rx="2" fill="#fff" stroke="#e91c24" stroke-width="0.9"/>
<path d="M446.25 237.5 h26 v36.4 h-26 a2 2 0 0 1 -2 -2 v-32.4 a2 2 0 0 1 2 -2z" fill="#e91c24"/>
<line x1="472.25" y1="256" x2="511.05" y2="256" stroke="#e91c24" stroke-width="0.8"/>
<g transform="translate(450.35 266) scale(1.13 1)"><text clip-path="url(#c1)" font-size="30.3" font-weight="bold" fill="#fff" stroke="#fff" stroke-width="0.4">1</text></g>
<text transform="translate(474.75 250.5) scale(0.8 1)" font-size="10" font-weight="bold" text-anchor="start" fill="#3b3b3d" stroke="#3b3b3d" stroke-width="0.3">№ 2</text>
<text transform="translate(474.75 268.5) scale(0.86 1)" font-size="10" font-weight="bold" fill="#3b3b3d" stroke="#3b3b3d" stroke-width="0.3">40,12<tspan font-size="7.8" dx="0.8" font-style="italic">м²</tspan></text>
<rect x="124.35" y="433.85" width="65.9" height="35.5" rx="2" fill="#fff" stroke="#e91c24" stroke-width="0.9"/>
<path d="M125.9 433.4 h26 v36.4 h-26 a2 2 0 0 1 -2 -2 v-32.4 a2 2 0 0 1 2 -2z" fill="#e91c24"/>
<line x1="151.9" y1="451.9" x2="190.7" y2="451.9" stroke="#e91c24" stroke-width="0.8"/>
<g transform="translate(130 461.9) scale(1.13 1)"><text clip-path="url(#c1)" font-size="30.3" font-weight="bold" fill="#fff" stroke="#fff" stroke-width="0.4">1</text></g>
<text transform="translate(154.4 446.4) scale(0.8 1)" font-size="10" font-weight="bold" text-anchor="start" fill="#3b3b3d" stroke="#3b3b3d" stroke-width="0.3">№ 6</text>
<text transform="translate(154.4 464.4) scale(0.86 1)" font-size="10" font-weight="bold" fill="#3b3b3d" stroke="#3b3b3d" stroke-width="0.3">38,39<tspan font-size="7.8" dx="0.8" font-style="italic">м²</tspan></text>
<rect x="409.7" y="436.75" width="65.9" height="35.5" rx="2" fill="#fff" stroke="#e91c24" stroke-width="0.9"/>
<path d="M411.25 436.3 h26 v36.4 h-26 a2 2 0 0 1 -2 -2 v-32.4 a2 2 0 0 1 2 -2z" fill="#e91c24"/>
<line x1="437.25" y1="454.8" x2="476.05" y2="454.8" stroke="#e91c24" stroke-width="0.8"/>
<g transform="translate(415.35 464.8) scale(1.13 1)"><text clip-path="url(#c1)" font-size="30.3" font-weight="bold" fill="#fff" stroke="#fff" stroke-width="0.4">1</text></g>
<text transform="translate(439.75 449.3) scale(0.8 1)" font-size="10" font-weight="bold" text-anchor="start" fill="#3b3b3d" stroke="#3b3b3d" stroke-width="0.3">№ 3</text>
<text transform="translate(439.75 467.3) scale(0.86 1)" font-size="10" font-weight="bold" fill="#3b3b3d" stroke="#3b3b3d" stroke-width="0.3">38,39<tspan font-size="7.8" dx="0.8" font-style="italic">м²</tspan></text>
<rect x="145.95" y="507.25" width="65.9" height="35.5" rx="2" fill="#fff" stroke="#e91c24" stroke-width="0.9"/>
<path d="M147.5 506.8 h26 v36.4 h-26 a2 2 0 0 1 -2 -2 v-32.4 a2 2 0 0 1 2 -2z" fill="#e91c24"/>
<line x1="173.5" y1="525.3" x2="212.3" y2="525.3" stroke="#e91c24" stroke-width="0.8"/>
<g transform="translate(151.6 535.3) scale(1.13 1)"><text clip-path="url(#c1)" font-size="30.3" font-weight="bold" fill="#fff" stroke="#fff" stroke-width="0.4">1</text></g>
<text transform="translate(176 519.8) scale(0.8 1)" font-size="10" font-weight="bold" text-anchor="start" fill="#3b3b3d" stroke="#3b3b3d" stroke-width="0.3">№ 5</text>
<text transform="translate(176 537.8) scale(0.86 1)" font-size="10" font-weight="bold" fill="#3b3b3d" stroke="#3b3b3d" stroke-width="0.3">38,59<tspan font-size="7.8" dx="0.8" font-style="italic">м²</tspan></text>
<rect x="393.75" y="509.95" width="65.9" height="35.5" rx="2" fill="#fff" stroke="#e91c24" stroke-width="0.9"/>
<path d="M395.3 509.5 h26 v36.4 h-26 a2 2 0 0 1 -2 -2 v-32.4 a2 2 0 0 1 2 -2z" fill="#e91c24"/>
<line x1="421.3" y1="528" x2="460.1" y2="528" stroke="#e91c24" stroke-width="0.8"/>
<g transform="translate(399.4 538) scale(1.13 1)"><text clip-path="url(#c1)" font-size="30.3" font-weight="bold" fill="#fff" stroke="#fff" stroke-width="0.4">1</text></g>
<text transform="translate(423.8 522.5) scale(0.8 1)" font-size="10" font-weight="bold" text-anchor="start" fill="#3b3b3d" stroke="#3b3b3d" stroke-width="0.3">№ 4</text>
<text transform="translate(423.8 540.5) scale(0.86 1)" font-size="10" font-weight="bold" fill="#3b3b3d" stroke="#3b3b3d" stroke-width="0.3">38,59<tspan font-size="7.8" dx="0.8" font-style="italic">м²</tspan></text>
</g>
</svg>
</body></html>
